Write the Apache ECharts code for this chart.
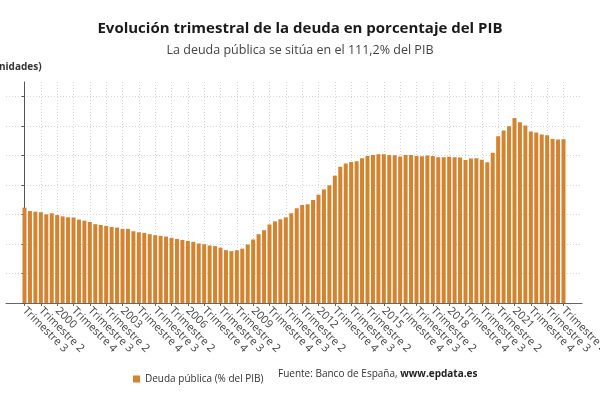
<!DOCTYPE html>
<html>
<head>
<meta charset="utf-8">
<script src="https://cdn.jsdelivr.net/npm/echarts@6/dist/echarts.min.js"></script>
<style>
html,body{margin:0;padding:0;background:#fff;}
#chart{width:600px;height:400px;}
</style>
</head>
<body>
<div id="chart"></div>
<script>
// Quarter labels as shown on the axis (Q1 shows the year)
const categories = [
  "Trimestre 3","Trimestre 4",
  "1999","Trimestre 2","Trimestre 3","Trimestre 4",
  "2000","Trimestre 2","Trimestre 3","Trimestre 4",
  "2001","Trimestre 2","Trimestre 3","Trimestre 4",
  "2002","Trimestre 2","Trimestre 3","Trimestre 4",
  "2003","Trimestre 2","Trimestre 3","Trimestre 4",
  "2004","Trimestre 2","Trimestre 3","Trimestre 4",
  "2005","Trimestre 2","Trimestre 3","Trimestre 4",
  "2006","Trimestre 2","Trimestre 3","Trimestre 4",
  "2007","Trimestre 2","Trimestre 3","Trimestre 4",
  "2008","Trimestre 2","Trimestre 3","Trimestre 4",
  "2009","Trimestre 2","Trimestre 3","Trimestre 4",
  "2010","Trimestre 2","Trimestre 3","Trimestre 4",
  "2011","Trimestre 2","Trimestre 3","Trimestre 4",
  "2012","Trimestre 2","Trimestre 3","Trimestre 4",
  "2013","Trimestre 2","Trimestre 3","Trimestre 4",
  "2014","Trimestre 2","Trimestre 3","Trimestre 4",
  "2015","Trimestre 2","Trimestre 3","Trimestre 4",
  "2016","Trimestre 2","Trimestre 3","Trimestre 4",
  "2017","Trimestre 2","Trimestre 3","Trimestre 4",
  "2018","Trimestre 2","Trimestre 3","Trimestre 4",
  "2019","Trimestre 2","Trimestre 3","Trimestre 4",
  "2020","Trimestre 2","Trimestre 3","Trimestre 4",
  "2021","Trimestre 2","Trimestre 3","Trimestre 4",
  "2022","Trimestre 2","Trimestre 3","Trimestre 4",
  "2023","Trimestre 2"
];

// Deuda pública (% del PIB)
const deuda = [
  64.7, 62.4, 62.0, 61.6, 60.2, 60.9, 59.7, 58.8, 58.2, 58.0,
  56.6, 55.9, 55.0, 53.5, 53.0, 52.3, 51.6, 51.2, 50.3, 50.3,
  48.7, 48.0, 47.6, 46.7, 46.0, 45.6, 45.1, 44.2, 43.5, 42.8,
  42.1, 41.5, 40.4, 39.9, 39.0, 38.6, 37.5, 35.9, 35.2, 35.8,
  36.9, 39.7, 43.1, 46.7, 49.4, 53.3, 55.4, 56.8, 58.1, 60.9,
  64.3, 66.5, 67.0, 69.9, 73.5, 77.1, 79.9, 86.4, 92.5, 94.6,
  95.7, 96.2, 98.2, 99.8, 100.5, 100.9, 101.0, 100.4, 100.2, 99.4,
  100.5, 100.5, 99.8, 99.6, 100.1, 99.8, 99.0, 99.0, 99.2, 99.0,
  98.7, 97.1, 98.0, 98.2, 97.3, 95.5, 102.0, 113.2, 117.1, 120.0,
  125.5, 122.7, 120.5, 116.4, 115.7, 114.3, 113.9, 111.3, 111.0, 111.2
];

// Y axis tick values
const yTicks = [0, 20, 40, 60, 80, 100, 120, 140];

const seriesName = "Deuda pública (% del PIB)";
const titleText = "Evolución trimestral de la deuda en porcentaje del PIB";
const subtitleText = "La deuda pública se sitúa en el 111,2% del PIB";

const xTickIdx = categories.map((c, i) => i).filter(i => i % 3 === 0);

const FONT = "'Open Sans', sans-serif";
const chart = echarts.init(document.getElementById('chart'), null, {renderer: 'canvas'});
chart.setOption({
  animation: false,
  backgroundColor: '#fff',
  textStyle: {fontFamily: FONT},
  title: {
    text: titleText,
    subtext: subtitleText,
    left: 'center',
    top: 16,
    itemGap: 8,
    textStyle: {fontFamily: FONT, fontSize: 15, fontWeight: 'bold', color: '#1a1a1a'},
    subtextStyle: {fontFamily: FONT, fontSize: 12.5, color: '#444'}
  },
  legend: {
    data: [seriesName],
    left: 128,
    top: 369,
    icon: 'rect',
    itemWidth: 7,
    itemHeight: 7,
    itemGap: 6,
    textStyle: {fontFamily: FONT, fontSize: 10, color: '#333'}
  },
  graphic: [
    {
      type: 'text', left: 278, top: 369,
      style: {
        text: '{a|Fuente: Banco de España, }{b|www.epdata.es}',
        rich: {
          a: {fontFamily: FONT, fontSize: 10, fill: '#333'},
          b: {fontFamily: FONT, fontSize: 10, fontWeight: 'bold', fill: '#222'}
        }
      }
    },
    {
      type: 'text', left: -11, top: 62,
      style: {text: '(unidades)', fontFamily: FONT, fontSize: 10, fontWeight: 'bold', fill: '#333'}
    }
  ],
  grid: {left: 6, right: 18, top: 82, bottom: 97, containLabel: false, outerBoundsMode: 'none'},
  xAxis: {
    type: 'value',
    min: -3.4,
    max: 102.4,
    axisLine: {show: true, lineStyle: {color: '#666', width: 1}},
    axisTick: {show: true, length: 3, customValues: xTickIdx, lineStyle: {color: '#666'}},
    axisLabel: {
      customValues: xTickIdx,
      rotate: -45,
      margin: 6,
      hideOverlap: false,
      fontFamily: FONT,
      fontSize: 11,
      color: '#444',
      formatter: v => categories[Math.round(v)] || ''
    },
    splitLine: {show: true, lineStyle: {color: '#d6d6d6', type: [1, 2], width: 1}}
  },
  yAxis: {
    type: 'value',
    min: 0,
    max: 150,
    axisLine: {show: true, lineStyle: {color: '#555', width: 1}},
    axisTick: {show: true, length: 3, customValues: yTicks, lineStyle: {color: '#555'}},
    axisLabel: {show: true, customValues: yTicks, margin: 12, fontFamily: FONT, fontSize: 11, color: '#444'},
    splitLine: {show: true, lineStyle: {color: '#d6d6d6', type: [1, 2], width: 1}}
  },
  series: [{
    name: seriesName,
    type: 'bar',
    barWidth: 4,
    itemStyle: {color: '#d4832f'},
    data: deuda.map((v, i) => [i, v])
  }]
});
</script>
</body>
</html>
